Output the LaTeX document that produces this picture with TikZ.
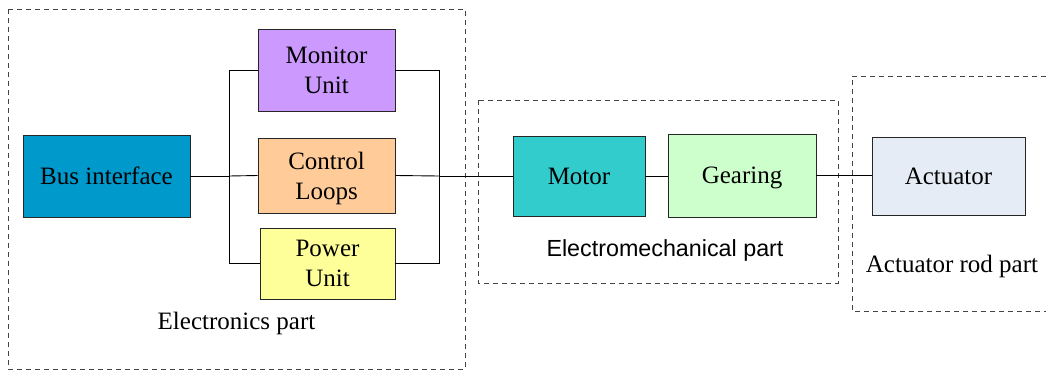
\documentclass[tikz,border=0pt]{standalone}
\usepackage{fontspec}
\setmainfont{Liberation Serif}
\setsansfont{Liberation Sans}
\definecolor{busblue}{HTML}{0099CC}
\definecolor{monviolet}{HTML}{CC99FF}
\definecolor{ctrlorange}{HTML}{FFCC99}
\definecolor{pwryellow}{HTML}{FFFF99}
\definecolor{motorcyan}{HTML}{33CCCC}
\definecolor{gearmint}{HTML}{CCFFCC}
\definecolor{actgrey}{HTML}{E6ECF6}
\definecolor{framegrey}{HTML}{444444}
\tikzset{
  block/.style={draw=black!85, line width=0.9pt, rectangle, inner sep=0pt,
    align=center, text depth=0pt, font=\fontsize{25}{30}\selectfont},
  oneline/.style={text height=16.5pt},
  partframe/.style={draw=framegrey, line width=0.9pt, dash pattern=on 5pt off 4pt},
  partlabel/.style={inner sep=0pt, text height=16.5pt, text depth=0pt,
    font=\fontsize{25}{30}\selectfont},
  link/.style={draw=black, line width=0.9pt},
}
\begin{document}
\begin{tikzpicture}[x=1pt, y=-1pt]
\useasboundingbox (0,0) rectangle (1046,372);

% dashed frames of the three parts
\draw[partframe] (8,9) rectangle (465,369);
\draw[partframe] (478,100) rectangle (838,283);
\draw[partframe] (1046,76) -- (852,76) -- (852,311) -- (1046,311);

% electronics part
\node[block, oneline, fill=busblue, minimum width=167pt, minimum height=82pt] (bus) at (106.5,176) {Bus interface};
\node[block, fill=monviolet, minimum width=137pt, minimum height=82pt] (mon) at (326.5,70) {Monitor\\Unit};
\node[block, fill=ctrlorange, minimum width=137pt, minimum height=75pt] (ctrl) at (326.5,175.5) {Control\\Loops};
\node[block, fill=pwryellow, minimum width=135pt, minimum height=71pt] (pwr) at (327.5,263.5) {Power\\Unit};

% electromechanical part
\node[block, oneline, fill=motorcyan, minimum width=132pt, minimum height=80pt] (motor) at (579,176) {Motor};
\node[block, oneline, fill=gearmint, minimum width=148pt, minimum height=83pt] (gear) at (742,175.5) {Gearing};

% actuator rod part
\node[block, oneline, fill=actgrey, minimum width=153pt, minimum height=78pt] (act) at (948.5,176) {Actuator};

% part labels
\node[partlabel] (elab) at (236.5,321.5) {Electronics part};
\node[partlabel, text height=16.8pt, font=\sffamily\fontsize{23.3}{28}\selectfont] (emlab) at (665,248) {Electromechanical part};
\node[partlabel] (alab) at (952,264) {Actuator rod part};

% junctions of the parallel units
\coordinate (jl) at (229,176);
\coordinate (jr) at (439,176);

% connectors
\draw[link] (bus.east) -- (jl);
\draw[link] (jl) |- (mon.west);
\draw[link] (jl) -- (ctrl.west);
\draw[link] (jl) |- (pwr.west);
\draw[link] (mon.east) -| (jr);
\draw[link] (ctrl.east) -- (jr);
\draw[link] (pwr.east) -| (jr);
\draw[link] (jr) -- (motor.west);
\draw[link] (motor.east) -- (gear.west |- motor.east);
\draw[link] (gear.east) -- (act.west |- gear.east);
\end{tikzpicture}
\end{document}
